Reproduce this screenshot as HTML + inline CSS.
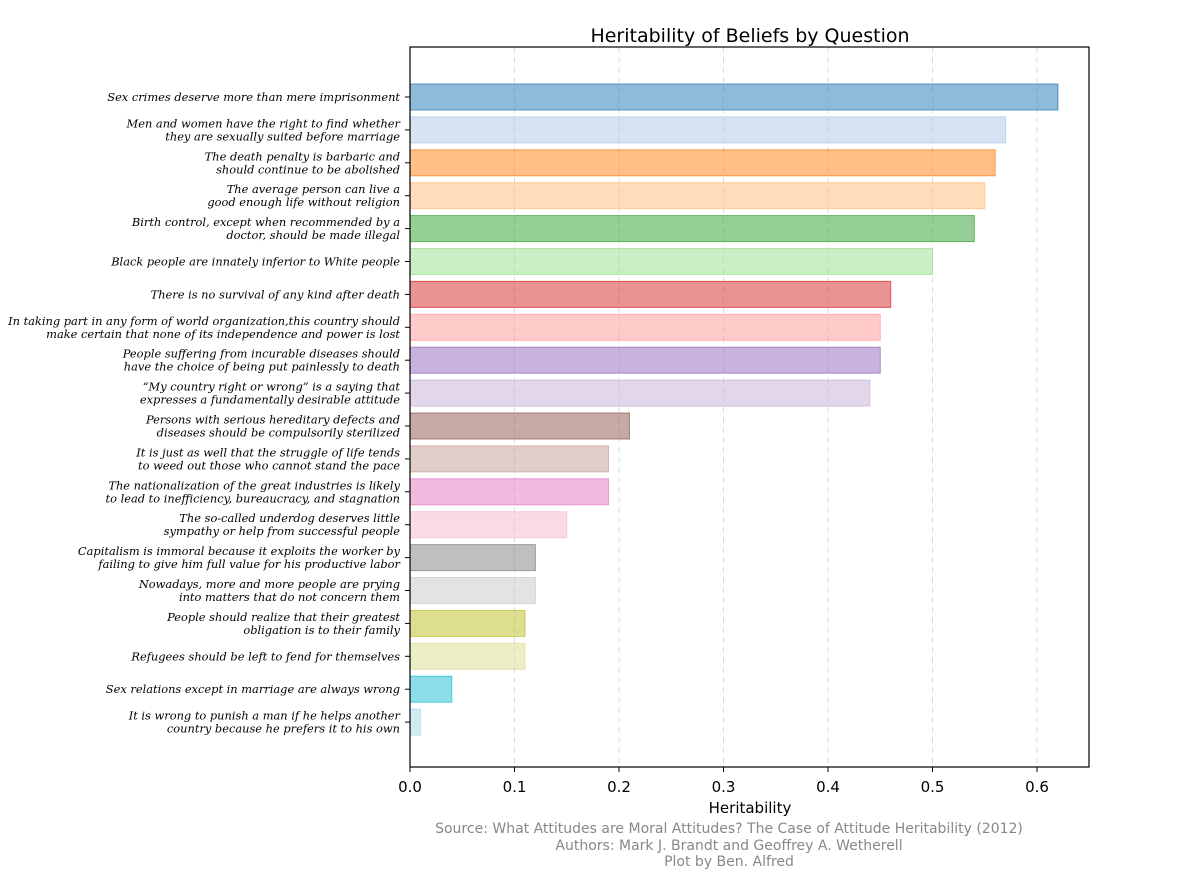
<!DOCTYPE html>
<html><head><meta charset="utf-8"><style>
body{margin:0;background:#fff;}
svg{display:block;}
</style></head><body>
<svg id="chart" width="1200" height="879" xmlns="http://www.w3.org/2000/svg">
<rect width="1200" height="879" fill="#fff"/>
<g id="grid"></g>
<g id="bars"></g>
<g id="ylabels"></g>
<g id="xticks"></g>
<rect x="410" y="47" width="679" height="720" fill="none" stroke="#000" stroke-width="1.2"/>
<text x="750" y="42" text-anchor="middle" font-family="DejaVu Sans, Liberation Sans, sans-serif" font-size="19">Heritability of Beliefs by Question</text>
<text x="750" y="813" text-anchor="middle" font-family="DejaVu Sans, Liberation Sans, sans-serif" font-size="15">Heritability</text>
<g font-family="DejaVu Sans, Liberation Sans, sans-serif" font-size="14" fill="#888" text-anchor="middle">
<text x="729" y="833">Source: What Attitudes are Moral Attitudes? The Case of Attitude Heritability (2012)</text>
<text x="729" y="850">Authors: Mark J. Brandt and Geoffrey A. Wetherell</text>
<text x="729" y="866">Plot by Ben. Alfred</text>
</g>
</svg>
<script>
const questions = [
["Sex crimes deserve more than mere imprisonment"],
["Men and women have the right to find whether","they are sexually suited before marriage"],
["The death penalty is barbaric and","should continue to be abolished"],
["The average person can live a","good enough life without religion"],
["Birth control, except when recommended by a","doctor, should be made illegal"],
["Black people are innately inferior to White people"],
["There is no survival of any kind after death"],
["In taking part in any form of world organization,this country should","make certain that none of its independence and power is lost"],
["People suffering from incurable diseases should","have the choice of being put painlessly to death"],
["\u201cMy country right or wrong\u201d is a saying that","expresses a fundamentally desirable attitude"],
["Persons with serious hereditary defects and","diseases should be compulsorily sterilized"],
["It is just as well that the struggle of life tends","to weed out those who cannot stand the pace"],
["The nationalization of the great industries is likely","to lead to inefficiency, bureaucracy, and stagnation"],
["The so-called underdog deserves little","sympathy or help from successful people"],
["Capitalism is immoral because it exploits the worker by","failing to give him full value for his productive labor"],
["Nowadays, more and more people are prying","into matters that do not concern them"],
["People should realize that their greatest","obligation is to their family"],
["Refugees should be left to fend for themselves"],
["Sex relations except in marriage are always wrong"],
["It is wrong to punish a man if he helps another","country because he prefers it to his own"]
];
const values = [0.62,0.57,0.56,0.55,0.54,0.50,0.46,0.45,0.45,0.44,0.21,0.19,0.19,0.15,0.12,0.12,0.11,0.11,0.04,0.01];
const colors = ["#1f77b4","#aec7e8","#ff7f0e","#ffbb78","#2ca02c","#98df8a","#d62728","#ff9896","#9467bd","#c5b0d5","#8c564b","#c49c94","#e377c2","#f7b6d2","#7f7f7f","#c7c7c7","#bcbd22","#dbdb8d","#17becf","#9edae5"];
const xTicks = [0,0.1,0.2,0.3,0.4,0.5,0.6];
const xTickLabels = ["0.0","0.1","0.2","0.3","0.4","0.5","0.6"];
const NS="http://www.w3.org/2000/svg";
const X0=410, PX=1045/1;
function xs(v){return X0+v*PX;}
function ys(i){return 97+i*32.9;}
const grid=document.getElementById('grid'), bars=document.getElementById('bars'), yl=document.getElementById('ylabels'), xt=document.getElementById('xticks');
xTicks.forEach((t,k)=>{
  if(t>0){const g=document.createElementNS(NS,'line');
  
  
  g.setAttribute('x1',xs(t));g.setAttribute('x2',xs(t));g.setAttribute('y1',47);g.setAttribute('y2',767);
  g.setAttribute('stroke','#ddd');g.setAttribute('stroke-dasharray','6,4');grid.appendChild(g);}
  const tk=document.createElementNS(NS,'line');
  
  
  tk.setAttribute('x1',xs(t));tk.setAttribute('x2',xs(t));tk.setAttribute('y1',767);tk.setAttribute('y2',772);tk.setAttribute('stroke','#000');xt.appendChild(tk);
  const tx=document.createElementNS(NS,'text');
  
  
  tx.setAttribute('x',xs(t));tx.setAttribute('y',792);tx.setAttribute('text-anchor','middle');
  tx.setAttribute('font-family','DejaVu Sans, Liberation Sans, sans-serif');tx.setAttribute('font-size','15');
  tx.textContent=xTickLabels[k];xt.appendChild(tx);
});
values.forEach((v,i)=>{
  const r=document.createElementNS(NS,'rect');
  
  
  r.setAttribute('x',xs(0));r.setAttribute('y',ys(i)-13);r.setAttribute('width',xs(v)-xs(0));r.setAttribute('height',26);
  r.setAttribute('fill',colors[i]);r.setAttribute('fill-opacity','0.5');r.setAttribute('stroke',colors[i]);r.setAttribute('stroke-opacity','0.7');
  bars.appendChild(r);
  const tk=document.createElementNS(NS,'line');
  
  
  tk.setAttribute('x1',405);tk.setAttribute('x2',410);tk.setAttribute('y1',ys(i));tk.setAttribute('y2',ys(i));tk.setAttribute('stroke','#000');yl.appendChild(tk);
  const lines=questions[i];
  lines.forEach((ln,j)=>{
    const t=document.createElementNS(NS,'text');
    
    
    t.setAttribute('x',400);
    t.setAttribute('y',ys(i)+4+(lines.length===2?(j===0?-6.5:6.5):0));
    t.setAttribute('text-anchor','end');t.setAttribute('font-family','DejaVu Serif, Liberation Serif, serif');
    t.setAttribute('font-style','italic');t.setAttribute('font-size','11.4');
    t.textContent=ln;yl.appendChild(t);
  });
});
</script>
</body></html>
